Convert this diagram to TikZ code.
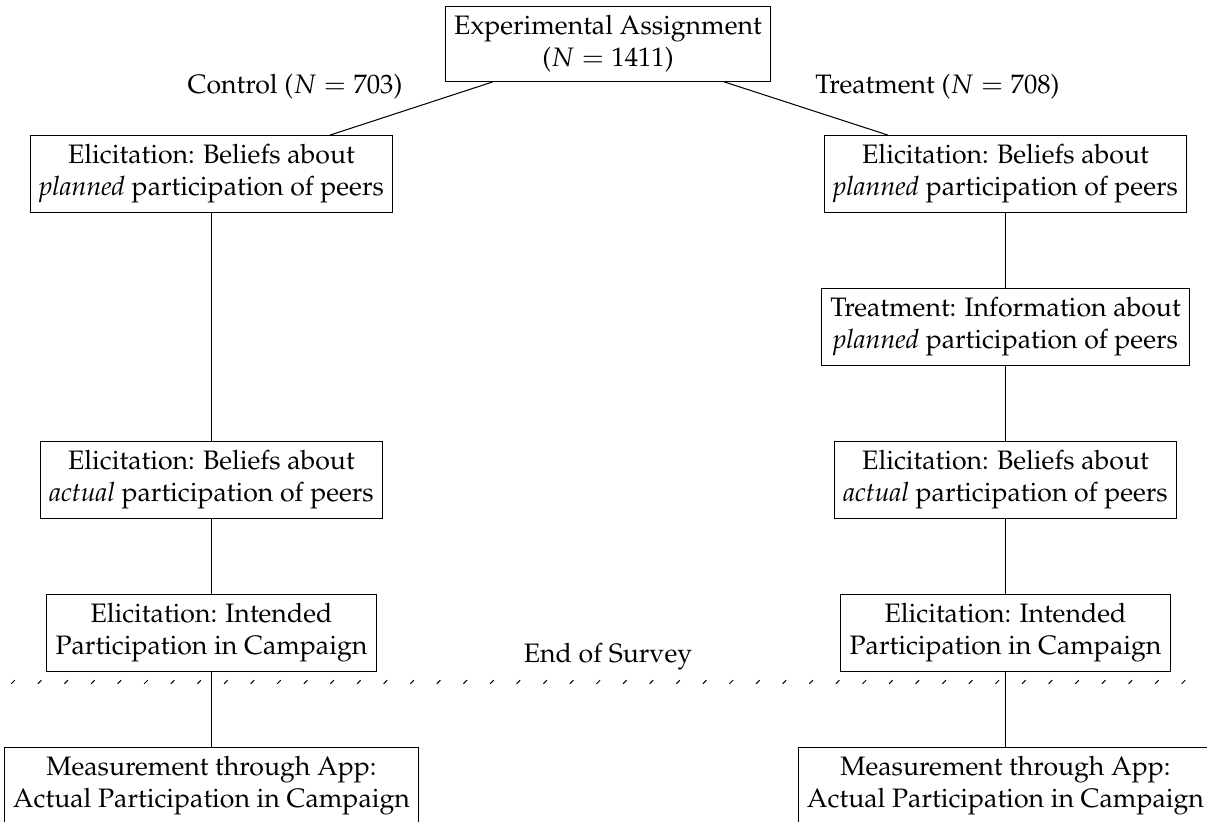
\documentclass[tikz,border=0pt]{standalone}
\usepackage[T1]{fontenc}
\usepackage{mathpazo}
\usepackage{amsmath}
\usepackage{tikz}

\begin{document}
\begin{tikzpicture}[font=\fontsize{10.34}{12.41}\selectfont,
  stage/.style={draw, align=center, inner sep=3.45pt}]

\useasboundingbox (0,0) rectangle (16.443,11.198);

% Assignment
\node[stage] (assign) at (8.283,10.599) {Experimental Assignment\\($N=1411$)};

% Arm labels
\node[anchor=base] (ctrllab) at (4.019,9.918) {Control ($N=703$)};
\node[anchor=base] (treatlab) at (12.772,9.918) {Treatment ($N=708$)};

% Control arm
\node[stage] (cplan) at (2.881,8.828) {Elicitation: Beliefs about\\\textit{planned} participation of peers};
\node[stage] (cact) at (2.881,4.659) {Elicitation: Beliefs about\\\textit{actual} participation of peers};
\node[stage] (cint) at (2.881,2.575) {Elicitation: Intended\\Participation in Campaign};
\node[stage] (cmeas) at (2.881,0.490) {Measurement through App:\\Actual Participation in Campaign};

% Treatment arm
\node[stage] (tplan) at (13.698,8.828) {Elicitation: Beliefs about\\\textit{planned} participation of peers};
\node[stage] (tinfo) at (13.698,6.743) {Treatment: Information about\\\textit{planned} participation of peers};
\node[stage] (tact) at (13.698,4.659) {Elicitation: Beliefs about\\\textit{actual} participation of peers};
\node[stage] (tint) at (13.698,2.575) {Elicitation: Intended\\Participation in Campaign};
\node[stage] (tmeas) at (13.698,0.490) {Measurement through App:\\Actual Participation in Campaign};

% End of survey
\node[anchor=base] (endlab) at (8.283,2.166) {End of Survey};
\foreach \x in {0,...,44}
  \draw ({0.177+\x*0.3624-0.024},1.883) -- ({0.177+\x*0.3624+0.024},1.931);

% Edges
\draw ([xshift=-1.567cm]assign.south) -- ([xshift=1.614cm]cplan.north);
\draw ([xshift=1.580cm]assign.south) -- ([xshift=-1.601cm]tplan.north);
\draw (cplan) -- (cact) -- (cint) -- (cmeas);
\draw (tplan) -- (tinfo) -- (tact) -- (tint) -- (tmeas);

\end{tikzpicture}
\end{document}
